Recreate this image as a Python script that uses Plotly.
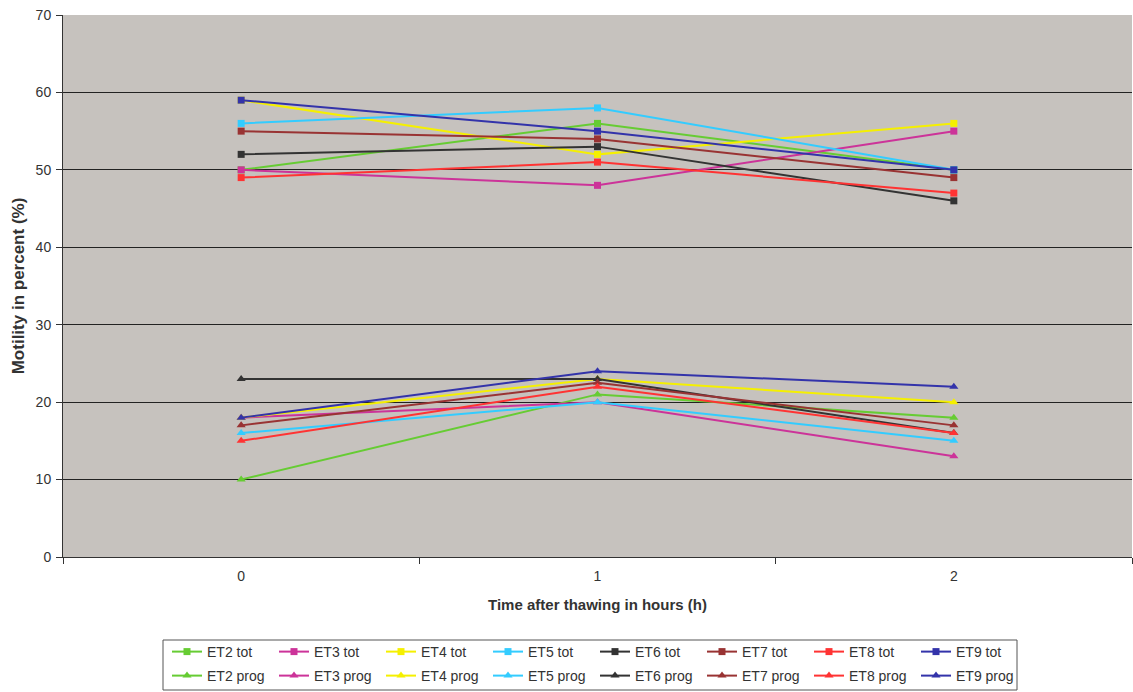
import plotly.graph_objects as go

hours = ["0", "1", "2"]
names = ["ET2", "ET3", "ET4", "ET5", "ET6", "ET7", "ET8", "ET9"]
colors = ["#66cc33", "#cc3399", "#f5f000", "#33ccff", "#333333", "#993333", "#ff3333", "#3333aa"]

tot = {
    "ET2": [50, 56, 50],
    "ET3": [50, 48, 55],
    "ET4": [59, 52, 56],
    "ET5": [56, 58, 50],
    "ET6": [52, 53, 46],
    "ET7": [55, 54, 49],
    "ET8": [49, 51, 47],
    "ET9": [59, 55, 50],
}
prog = {
    "ET2": [10, 21, 18],
    "ET3": [18, 20, 13],
    "ET4": [18, 23, 20],
    "ET5": [16, 20, 15],
    "ET6": [23, 23, 16],
    "ET7": [17, 22.5, 17],
    "ET8": [15, 22, 16],
    "ET9": [18, 24, 22],
}

fig = go.Figure()
for n, c in zip(names, colors):
    fig.add_trace(go.Scatter(x=hours, y=tot[n], name=f"{n} tot", mode="lines+markers", legend="legend",
                             line=dict(color=c, width=2), marker=dict(symbol="square", size=7, color=c)))
for n, c in zip(names, colors):
    fig.add_trace(go.Scatter(x=hours, y=prog[n], name=f"{n} prog", mode="lines+markers", legend="legend2",
                             line=dict(color=c, width=2), marker=dict(symbol="triangle-up", size=8, color=c)))

leg_common = dict(orientation="h", xref="container", yref="container", xanchor="left", yanchor="top",
                  borderwidth=0, bgcolor="rgba(0,0,0,0)", entrywidth=62, entrywidthmode="pixels",
                  font=dict(size=14, color="#333"), traceorder="normal")

fig.update_layout(
    width=1133, height=692,
    margin=dict(l=63, r=1, t=15, b=135),
    paper_bgcolor="white",
    plot_bgcolor="#c6c2be",
    font=dict(family="Liberation Sans, Arial", size=14, color="#333"),
    showlegend=True,
    legend=dict(x=167 / 1133, y=1 - 636 / 692, **leg_common),
    legend2=dict(x=167 / 1133, y=1 - 660 / 692, **leg_common),
    shapes=[dict(type="rect", xref="paper", yref="paper",
                 x0=(163 - 63) / 1069, x1=(1017 - 63) / 1069,
                 y0=-(690 - 557) / 542, y1=-(640 - 557) / 542,
                 line=dict(color="#555", width=1), fillcolor="rgba(0,0,0,0)")],
)
fig.update_xaxes(type="category", range=[-0.5, 2.5], tickson="boundaries", ticks="outside", ticklen=6,
                 tickcolor="#333", showline=True, linecolor="#333", showgrid=False,
                 ticklabelstandoff=6, tickfont=dict(size=14),
                 title=dict(text="<b>Time after thawing in hours (h)</b>", font=dict(size=15), standoff=16))
fig.update_yaxes(range=[0, 70], dtick=10, ticks="outside", ticklen=6, tickcolor="#333",
                 showline=True, linecolor="#333", showgrid=True, gridcolor="#222", gridwidth=1,
                 zeroline=False, ticklabelstandoff=2, tickfont=dict(size=14),
                 title=dict(text="<b>Motility in percent (%)</b>", font=dict(size=17), standoff=6))
fig.write_html("out.html")
